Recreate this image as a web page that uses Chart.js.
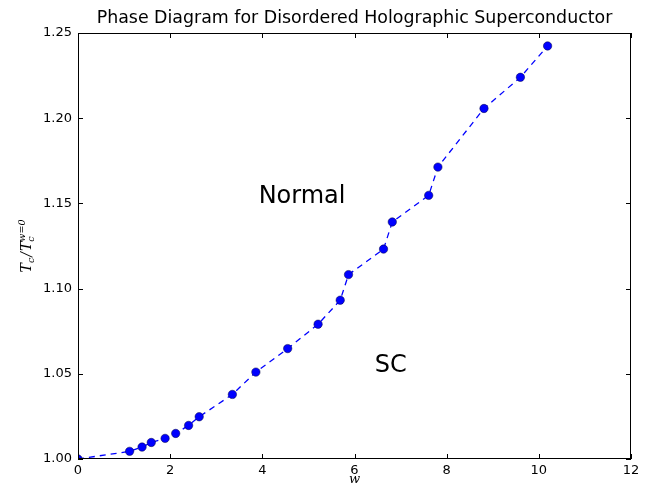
<!DOCTYPE html>
<html lang="en">
<head>
  <meta charset="UTF-8">
  <title>Phase Diagram for Disordered Holographic Superconductor</title>
  <script src="https://cdn.jsdelivr.net/npm/chart.js"></script>
  <style>
    body { margin: 0; background: #fff; }
    canvas { display: block; }
  </style>
</head>
<body>
  <canvas id="chart" width="662" height="491"></canvas>

  <script>
    // Datos
    const wValues = [0, 1.12, 1.39, 1.59, 1.89, 2.12, 2.40, 2.63, 3.35, 3.86, 4.55,
                     5.21, 5.69, 5.87, 6.63, 6.82, 7.61, 7.81, 8.81, 9.60, 10.19];
    const tcRatio = [1.000, 1.0045, 1.0070, 1.0097, 1.0121, 1.0150, 1.0197, 1.0248, 1.0379, 1.0510, 1.0648,
                     1.0791, 1.0932, 1.1082, 1.1232, 1.1391, 1.1547, 1.1713, 1.2057, 1.2240, 1.2424];
    const xTicks = [0, 2, 4, 6, 8, 10, 12];
    const yTicks = [1.00, 1.05, 1.10, 1.15, 1.20, 1.25];
    const regionLabels = ['Normal', 'SC'];
    const regionAt = [[3.92, 1.154], [6.44, 1.0545]];

    const points = wValues.map((w, i) => ({ x: w, y: tcRatio[i] }));

    // Marco, marcas hacia dentro y textos estilo matplotlib
    const decor = {
      id: 'decor',
      afterDraw(chart) {
        const { ctx, chartArea: a, scales: { x, y } } = chart;
        ctx.save();
        ctx.strokeStyle = '#000';
        ctx.lineWidth = 1;
        ctx.strokeRect(a.left + 0.5, a.top + 0.5, a.right - a.left - 1, a.bottom - a.top - 1);
        ctx.beginPath();
        xTicks.forEach(v => {
          const px = Math.round(x.getPixelForValue(v)) + 0.5;
          ctx.moveTo(px, a.bottom); ctx.lineTo(px, a.bottom - 5);
          ctx.moveTo(px, a.top); ctx.lineTo(px, a.top + 5);
        });
        yTicks.forEach(v => {
          const py = Math.round(y.getPixelForValue(v)) + 0.5;
          ctx.moveTo(a.left, py); ctx.lineTo(a.left + 5, py);
          ctx.moveTo(a.right, py); ctx.lineTo(a.right - 5, py);
        });
        ctx.stroke();

        ctx.fillStyle = '#000';
        ctx.font = '17.4px "DejaVu Sans"';
        ctx.textAlign = 'center';
        ctx.textBaseline = 'alphabetic';
        ctx.fillText('Phase Diagram for Disordered Holographic Superconductor', (a.left + a.right) / 2, 23);

        ctx.font = '24px "DejaVu Sans"';
        ctx.textAlign = 'left';
        ctx.textBaseline = 'middle';
        regionLabels.forEach((t, i) => {
          ctx.fillText(t, x.getPixelForValue(regionAt[i][0]), y.getPixelForValue(regionAt[i][1]));
        });

        // etiqueta eje x
        ctx.font = 'italic 13px "DejaVu Serif"';
        ctx.textAlign = 'center';
        ctx.textBaseline = 'alphabetic';
        ctx.fillText('w', (a.left + a.right) / 2, 483);

        // etiqueta eje y: T_c / T_c^{w=0}
        ctx.translate(26, (a.top + a.bottom) / 2);
        ctx.rotate(-Math.PI / 2);
        const big = 'italic 14px "DejaVu Serif"';
        const small = 'italic 9.5px "DejaVu Serif"';
        const parts = [];
        let cx = 0;
        ctx.font = big; parts.push(['T', cx, 0, big]); cx += ctx.measureText('T').width;
        ctx.font = small; parts.push(['c', cx, 3, small]); cx += ctx.measureText('c').width + 1;
        ctx.font = big; parts.push(['/', cx, 0, big]); cx += ctx.measureText('/').width + 1;
        parts.push(['T', cx, 0, big]); cx += ctx.measureText('T').width;
        ctx.font = small;
        parts.push(['c', cx, 3, small]);
        parts.push(['w=0', cx, -6, small]);
        cx += ctx.measureText('w=0').width;
        ctx.textAlign = 'left';
        parts.forEach(p => {
          ctx.font = p[3];
          ctx.fillText(p[0], p[1] - cx / 2, p[2] + 5);
        });
        ctx.restore();
      }
    };

    new Chart(document.getElementById('chart'), {
      type: 'scatter',
      data: {
        datasets: [{
          data: points,
          showLine: true,
          borderColor: '#0000ff',
          borderWidth: 1.3,
          borderDash: [6, 5],
          backgroundColor: '#0000ff',
          pointBackgroundColor: '#0000ff',
          pointBorderColor: '#000040',
          pointBorderWidth: 0.5,
          pointRadius: 4.2,
          tension: 0
        }]
      },
      options: {
        responsive: false,
        animation: false,
        layout: { padding: { left: 0, right: 31, top: 33, bottom: 0 } },
        plugins: {
          legend: { display: false },
          tooltip: { enabled: false }
        },
        scales: {
          x: {
            type: 'linear',
            min: 0, max: 12,
            afterBuildTicks: s => { s.ticks = xTicks.map(v => ({ value: v })); },
            afterFit: s => { s.height = 32; },
            ticks: { color: '#000', padding: 4, font: { family: 'DejaVu Sans', size: 13 } },
            grid: { drawOnChartArea: false, drawTicks: false },
            border: { display: false }
          },
          y: {
            min: 1.0, max: 1.25,
            afterBuildTicks: s => { s.ticks = yTicks.map(v => ({ value: v })); },
            afterFit: s => { s.width = 78; },
            ticks: {
              color: '#000', padding: 6, font: { family: 'DejaVu Sans', size: 13 },
              callback: v => Number(v).toFixed(2)
            },
            grid: { drawOnChartArea: false, drawTicks: false },
            border: { display: false }
          }
        }
      },
      plugins: [decor]
    });
  </script>
</body>
</html>
